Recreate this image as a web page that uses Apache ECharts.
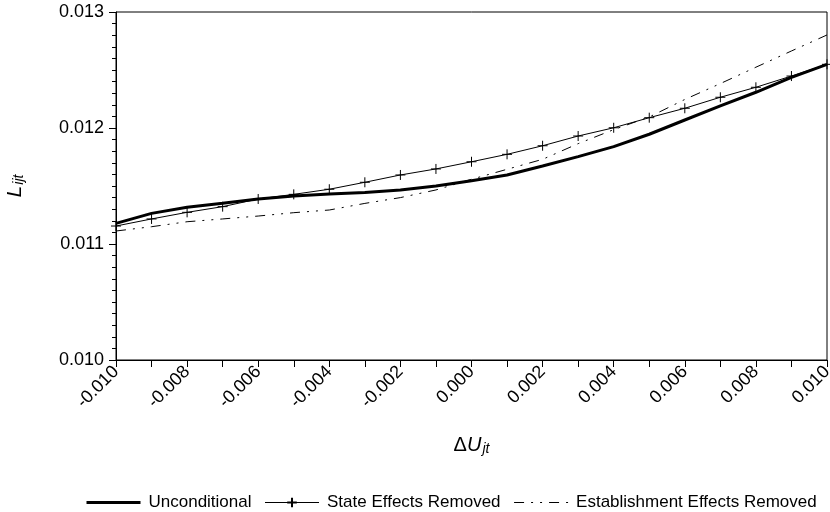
<!DOCTYPE html>
<html>
<head>
<meta charset="utf-8">
<script src="https://cdn.jsdelivr.net/npm/echarts@6/dist/echarts.min.js"></script>
<style>
html,body{margin:0;padding:0;background:#fff;}
#chart{width:830px;height:512px;}
</style>
</head>
<body>
<div id="chart"></div>
<script>
var xValues = [-0.010,-0.009,-0.008,-0.007,-0.006,-0.005,-0.004,-0.003,-0.002,-0.001,0.000,0.001,0.002,0.003,0.004,0.005,0.006,0.007,0.008,0.009,0.010];
var unconditional = [0.011178,0.011264,0.011316,0.011351,0.011388,0.011414,0.011431,0.011444,0.011466,0.011500,0.011546,0.011595,0.011672,0.011753,0.011839,0.011946,0.012069,0.012190,0.012308,0.012437,0.012549];
var stateRemoved = [0.011155,0.011216,0.011273,0.011322,0.011388,0.011428,0.011472,0.011532,0.011595,0.011647,0.011709,0.011773,0.011847,0.011931,0.012002,0.012089,0.012170,0.012265,0.012351,0.012448,0.012549];
var establishmentRemoved = [0.011112,0.011149,0.011192,0.011216,0.011241,0.011270,0.011293,0.011350,0.011400,0.011466,0.011558,0.011644,0.011730,0.011865,0.011986,0.012095,0.012246,0.012383,0.012524,0.012664,0.012802];
var seriesNames = ['Unconditional','State Effects Removed','Establishment Effects Removed'];

function pairs(ys){ return xValues.map(function(x,i){ return [x, ys[i]]; }); }

var FONT = '"Liberation Sans", Arial, sans-serif';
var DASHDOT = [10,7,2,7,2,7];
var chart = echarts.init(document.getElementById('chart'), null, {renderer:'canvas'});
chart.setOption({
  animation:false,
  backgroundColor:'#fff',
  textStyle:{fontFamily:FONT,color:'#000'},
  grid:{left:116,right:3,top:12,bottom:152,show:true,borderColor:'#000',borderWidth:1,
        backgroundColor:'transparent',containLabel:false,outerBoundsMode:'none'},
  legend:{
    data:[
      {name:seriesNames[0],itemStyle:{opacity:0},lineStyle:{color:'#000',width:3,type:'solid'}},
      {name:seriesNames[1],lineStyle:{color:'#000',width:1,type:'solid'}},
      {name:seriesNames[2],itemStyle:{opacity:0},lineStyle:{color:'#000',width:1,type:DASHDOT}}
    ],
    left:85, top:494, width:745, padding:0,
    itemWidth:54, itemHeight:12, itemGap:13,
    textStyle:{fontFamily:FONT,fontSize:17,color:'#000',padding:[0,0,0,3]},
    inactiveColor:'#000'
  },
  xAxis:{
    type:'value', min:-0.010, max:0.010, interval:0.002,
    name:'{d|Δ}{u|U}{s|jt}', nameLocation:'middle', nameGap:74,
    nameTextStyle:{rich:{
      d:{fontFamily:FONT,fontSize:20,color:'#000'},
      u:{fontFamily:FONT,fontSize:20,fontStyle:'italic',color:'#000'},
      s:{fontFamily:FONT,fontSize:14,fontStyle:'italic',color:'#000',verticalAlign:'bottom',padding:[8,0,0,1]}
    }},
    axisLine:{onZero:false,lineStyle:{color:'#000',width:1}},
    axisTick:{show:true,inside:false,length:7,lineStyle:{color:'#000'}},
    minorTick:{show:true,splitNumber:2,length:7,lineStyle:{color:'#000'}},
    splitLine:{show:false},
    axisLabel:{rotate:45,margin:9,fontFamily:FONT,fontSize:18,color:'#000',
      formatter:function(v){ return v.toFixed(3); }}
  },
  yAxis:{
    type:'value', min:0.010, max:0.013, interval:0.001,
    name:'{l|L}{s|ijt}', nameLocation:'middle', nameGap:90, nameRotate:90,
    nameTextStyle:{rich:{
      l:{fontFamily:FONT,fontSize:21,fontStyle:'italic',color:'#000'},
      s:{fontFamily:FONT,fontSize:14,fontStyle:'italic',color:'#000',verticalAlign:'bottom',padding:[8,0,0,1]}
    }},
    axisLine:{show:true,onZero:false,lineStyle:{color:'#000',width:1}},
    axisTick:{show:true,inside:false,length:7,lineStyle:{color:'#000'}},
    minorTick:{show:true,splitNumber:10,length:4,lineStyle:{color:'#000'}},
    splitLine:{show:false},
    axisLabel:{margin:12,fontFamily:FONT,fontSize:18,color:'#000',
      formatter:function(v){ return v.toFixed(3); }}
  },
  series:[
    {name:seriesNames[0],type:'line',data:pairs(unconditional),symbol:'none',
     lineStyle:{color:'#000',width:3},itemStyle:{color:'#000'}},
    {name:seriesNames[1],type:'line',data:pairs(stateRemoved),
     symbol:'path://M0,5L10,5M5,0L5,10',symbolSize:10,showSymbol:true,
     lineStyle:{color:'#000',width:1},
     itemStyle:{color:'#000',borderColor:'#000',borderWidth:1}},
    {name:seriesNames[2],type:'line',data:pairs(establishmentRemoved),symbol:'none',
     lineStyle:{color:'#000',width:1,type:DASHDOT},itemStyle:{color:'#000'}}
  ]
});
</script>
</body>
</html>
